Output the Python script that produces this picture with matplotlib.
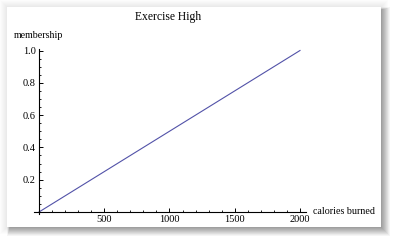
import matplotlib
matplotlib.use("Agg")
import matplotlib.pyplot as plt
from matplotlib.patches import Rectangle
from matplotlib.ticker import FixedLocator

# data
calories = [0, 2000]
membership = [0.0, 1.0]
x_major = [500, 1000, 1500, 2000]
y_major = [0.2, 0.4, 0.6, 0.8, 1.0]
title = "Exercise High"
xlabel = "calories burned"
ylabel = "membership"

W, H = 394, 241
fig = plt.figure(figsize=(W / 100, H / 100), dpi=100)
fig.patch.set_facecolor("white")

def fr(x0, y0, x1, y1):
    # pixel box (top-left origin) -> figure fraction rect
    return (x0 / W, 1 - y1 / H), (x1 - x0) / W, (y1 - y0) / H

# shadow
for i in range(7, 0, -1):
    xy, w, h = fr(7 - i, 7 - i, 381 + i, 227 + i)
    fig.patches.append(Rectangle(xy, w, h, transform=fig.transFigure,
                                 facecolor="black", alpha=0.012, edgecolor="none", zorder=-3))
for i in range(9, 0, -1):
    xy, w, h = fr(10 - i * 0.3, 10 - i * 0.3, 381 + i, 227 + i)
    fig.patches.append(Rectangle(xy, w, h, transform=fig.transFigure,
                                 facecolor="black", alpha=0.04, edgecolor="none", zorder=-2))
xy, w, h = fr(7, 7, 381, 227)
fig.patches.append(Rectangle(xy, w, h, transform=fig.transFigure,
                             facecolor="white", edgecolor="none", zorder=-1))

serif = ["Liberation Serif", "DejaVu Serif"]

xmin, xmax = -38, 2046
ymin, ymax = -0.015, 1.008
pxx = 261 / 2000.0
pxy = 161.5
left = 39 + xmin * pxx
width = (xmax - xmin) * pxx
bottom = 29 + ymin * pxy
height = (ymax - ymin) * pxy
ax = fig.add_axes([left / W, bottom / H, width / W, height / H])
ax.set_facecolor("none")
ax.set_xlim(xmin, xmax)
ax.set_ylim(ymin, ymax)

ax.plot(calories, membership, color="#5252a8", lw=0.8, clip_on=False)

for s in ("top", "right"):
    ax.spines[s].set_visible(False)
ax.spines["left"].set_position(("data", 0))
ax.spines["bottom"].set_position(("data", 0))
for s in ("left", "bottom"):
    ax.spines[s].set_linewidth(0.8)

ax.xaxis.set_major_locator(FixedLocator(x_major))
ax.xaxis.set_minor_locator(FixedLocator([v for v in range(100, 2001, 100) if v % 500]))
ax.yaxis.set_major_locator(FixedLocator(y_major))
ax.yaxis.set_minor_locator(FixedLocator([round(v * 0.05, 2) for v in range(1, 21) if v % 4]))
ax.set_xticklabels([str(v) for v in x_major])
ax.set_yticklabels([f"{v:.1f}" for v in y_major])
ax.tick_params(which="major", direction="in", length=3.0, width=0.7, pad=2.5,
               labelsize=7.5)
ax.tick_params(which="minor", direction="in", length=1.6, width=0.6)
for lbl in ax.get_xticklabels() + ax.get_yticklabels():
    lbl.set_family(serif)

fig.text(168.5 / W, 1 - 17 / H, title, ha="center", va="center",
         fontsize=8.4, family=serif)
fig.text(14 / W, 1 - 36 / H, ylabel, ha="left", va="center",
         fontsize=7.2, family=serif)
fig.text(313 / W, 1 - 211 / H, xlabel, ha="left", va="center",
         fontsize=7.2, family=serif)

fig.savefig("out.png", dpi=100)
